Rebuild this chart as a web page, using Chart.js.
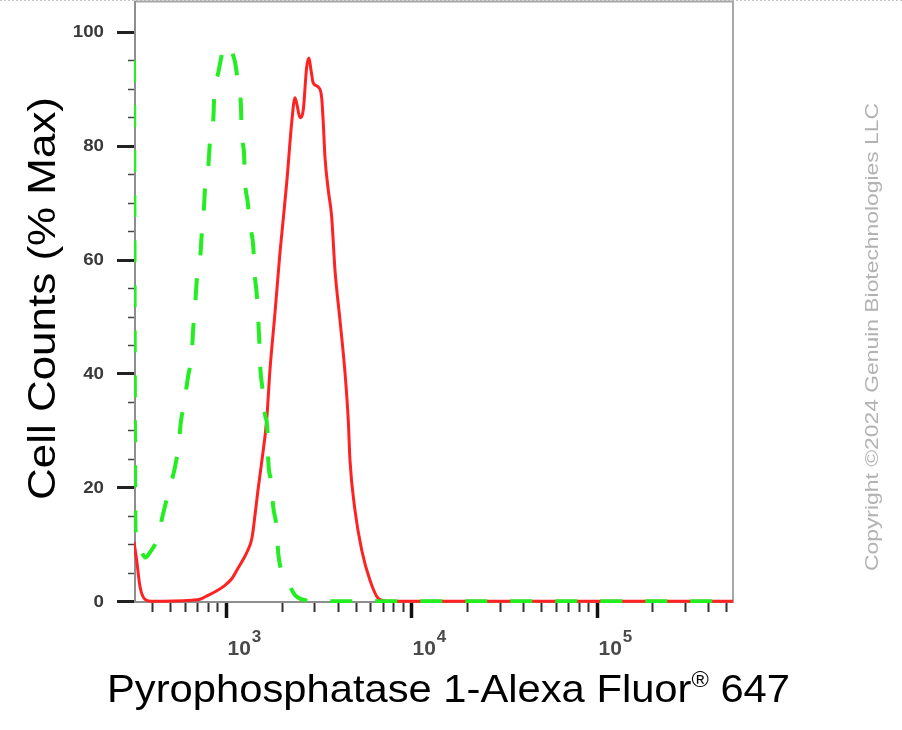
<!DOCTYPE html>
<html><head><meta charset="utf-8">
<script src="https://cdn.jsdelivr.net/npm/chart.js@4.4.1/dist/chart.umd.min.js"></script>
<style>html,body{margin:0;padding:0;background:#fff;overflow:hidden}#wrap{width:902px;height:730px;position:relative}</style>
</head><body><div id="wrap"><canvas id="c" width="902" height="730"></canvas></div>
<script>
// ---- data (x = fluorescence, y = % max) ----
const redX = [319, 329.8, 343.6, 365.6, 398.8, 655.4, 724, 799.7, 883.2, 987.6, 1077, 1161, 1251, 1314, 1381, 1434, 1488, 1564, 1658, 1727, 1838, 1956, 2030, 2134, 2262, 2357, 2416, 2507, 2613, 2725, 2804, 2875, 2958, 3148, 3284, 3350, 3421, 3564, 3718, 3873, 4121, 4386, 4569, 4667, 4966, 5398, 5983, 6633, 7482, 10000, 30000, 100000, 300000, 544000];
const redY = [10.4, 7.2, 2.6, 0.35, 0, 0.2, 0.35, 1.05, 1.75, 2.8, 4.0, 5.8, 7.6, 9.0, 11.1, 15.1, 19.5, 24.8, 31.8, 40.6, 50.6, 61.2, 66.6, 74.0, 84.0, 88.4, 87.2, 84.9, 86.3, 93.8, 95.4, 93.3, 91.0, 90.3, 88.4, 84.0, 78.0, 72.2, 67.5, 58.2, 49.4, 40.2, 31.8, 24.8, 16.0, 9.0, 3.7, 0.5, 0, 0, 0, 0, 0, 0];
const greenX = [319, 324.9, 339.4, 367.9, 389.1, 422.8, 458.9, 488.4, 526.1, 552.9, 571.8, 595.7, 626, 653, 666.1, 680.4, 694.9, 724, 739.5, 754.3, 770.4, 802.7, 819.8, 854.1, 864.8, 908.8, 951.6, 987.6, 1029, 1064, 1118, 1165, 1205, 1215, 1251, 1266, 1310, 1347, 1404, 1425, 1464, 1494, 1512, 1531, 1570, 1623, 1679, 1691, 1749, 1800, 1878, 1915, 2082, 2357, 2669, 3021, 10000, 30000, 100000, 300000, 544000];
const greenY = [95.0, 12.5, 9.3, 7.7, 8.6, 10.7, 15.5, 19.0, 23.0, 26.9, 31.6, 35.0, 39.7, 43.2, 48.0, 51.5, 56.1, 59.6, 64.3, 67.0, 72.2, 76.3, 80.7, 84.5, 88.9, 92.8, 96.0, 97.4, 97.7, 96.8, 94.7, 90.7, 86.8, 82.4, 78.7, 74.0, 70.1, 66.1, 62.2, 57.8, 54.1, 49.4, 45.9, 41.1, 37.6, 32.9, 29.2, 24.8, 21.3, 16.5, 12.8, 8.4, 4.6, 1.1, 0.2, 0, 0, 0, 0, 0, 0];

const yTickValues = [0, 20, 40, 60, 80, 100];
const yTickLabels = ['0', '20', '40', '60', '80', '100'];
const yMinorStep = 5;
const xMajorTicks = [1e3, 1e4, 1e5];
const xTickBase = '10';
const xTickExponents = ['3', '4', '5'];
const xMinorTicks = [400, 500, 600, 700, 800, 900, 2000, 3000, 4000, 5000, 6000, 7000, 8000, 9000, 20000, 30000, 40000, 50000, 60000, 70000, 80000, 90000, 200000, 300000, 400000, 500000];
const xTitleMain = 'Pyrophosphatase 1-Alexa Fluor';
const xTitleMark = '®';
const xTitleEnd = ' 647';
const yTitle = 'Cell Counts (% Max)';
const copyrightText = 'Copyright ©2024 Genuin Biotechnologies LLC';

const FONT = '"Liberation Sans", Arial, sans-serif';

function toPts(xs, ys) { return xs.map((x, i) => ({ x: x, y: ys[i] })); }

function stretchedText(ctx, parts, cx, cy, rot, targetLen, color) {
  ctx.save();
  ctx.fillStyle = color; ctx.textBaseline = 'alphabetic'; ctx.textAlign = 'left';
  let total = 0;
  for (const p of parts) { ctx.font = p.font; p.w = ctx.measureText(p.text).width; total += p.w; }
  const sx = targetLen / total;
  ctx.translate(cx, cy); if (rot) ctx.rotate(rot); ctx.scale(sx, 1);
  let x = -total / 2;
  for (const p of parts) { ctx.font = p.font; ctx.fillText(p.text, x, p.dy || 0); x += p.w; }
  ctx.restore();
}

const deco = {
  id: 'deco',
  beforeDatasetsDraw(chart) {
    const { ctx, chartArea: a } = chart;
    ctx.save();
    ctx.strokeStyle = '#c4c4c4'; ctx.lineWidth = 1; ctx.setLineDash([2, 2]);
    ctx.beginPath(); ctx.moveTo(0, 0.5); ctx.lineTo(chart.width, 0.5); ctx.stroke();
    ctx.setLineDash([]);
    ctx.strokeStyle = '#a8a8a8'; ctx.lineWidth = 2;
    ctx.beginPath(); ctx.moveTo(a.left, a.top + 0.5); ctx.lineTo(a.right, a.top + 0.5); ctx.lineTo(a.right, a.bottom); ctx.stroke();
    ctx.strokeStyle = '#8e8e8e'; ctx.lineWidth = 2;
    ctx.beginPath(); ctx.moveTo(a.left + 1, a.top); ctx.lineTo(a.left + 1, a.bottom - 1); ctx.lineTo(a.right, a.bottom - 1); ctx.stroke();
    ctx.restore();
  },
  afterDraw(chart) {
    const { ctx, chartArea: a } = chart;
    const xs = chart.scales.x, ys = chart.scales.y;
    ctx.save();
    // y ticks
    for (let v = 0; v <= 100; v += yMinorStep) {
      const y = Math.round(ys.getPixelForValue(v)) + 0.5;
      const major = yTickValues.includes(v);
      ctx.strokeStyle = major ? '#222' : '#444';
      ctx.lineWidth = major ? 3 : 1.5;
      ctx.beginPath(); ctx.moveTo(major ? a.left - 17 : a.left - 6, y); ctx.lineTo(a.left, y); ctx.stroke();
    }
    ctx.fillStyle = '#3a3a3a';
    yTickValues.forEach((v, i) => {
      const y = ys.getPixelForValue(v);
      ctx.save(); ctx.translate(a.left - 30, y); ctx.scale(1.1, 1);
      ctx.font = 'bold 17px ' + FONT; ctx.textAlign = 'right'; ctx.textBaseline = 'middle';
      ctx.fillText(yTickLabels[i], 0, 1); ctx.restore();
    });
    // x ticks
    const yb = a.bottom;
    xMinorTicks.forEach(t => {
      const x = Math.round(xs.getPixelForValue(t)) + 0.5;
      ctx.strokeStyle = '#333'; ctx.lineWidth = 2;
      ctx.beginPath(); ctx.moveTo(x, yb); ctx.lineTo(x, yb + 9); ctx.stroke();
    });
    xMajorTicks.forEach((t, i) => {
      const x = Math.round(xs.getPixelForValue(t)) + 0.5;
      ctx.strokeStyle = '#111'; ctx.lineWidth = 3.5;
      ctx.beginPath(); ctx.moveTo(x, yb); ctx.lineTo(x, yb + 15); ctx.stroke();
      ctx.fillStyle = '#4a4a4a'; ctx.textAlign = 'left'; ctx.textBaseline = 'alphabetic';
      ctx.font = 'bold 21px ' + FONT;
      const w = ctx.measureText(xTickBase).width;
      ctx.fillText(xTickBase, x + 1, yb + 52);
      ctx.font = 'bold 17px ' + FONT;
      ctx.fillText(xTickExponents[i], x + 1 + w + 1, yb + 39);
    });
    // titles
    stretchedText(ctx, [
      { text: xTitleMain, font: '39px ' + FONT },
      { text: xTitleMark, font: '22px ' + FONT, dy: -15 },
      { text: xTitleEnd, font: '39px ' + FONT }
    ], 448.5, 702, 0, 683, '#000');
    stretchedText(ctx, [{ text: yTitle, font: '38px ' + FONT }], 55, 298.5, -Math.PI / 2, 403, '#000');
    stretchedText(ctx, [{ text: copyrightText, font: '18px ' + FONT }], 878, 337, -Math.PI / 2, 468, '#b2b2b2');
    ctx.restore();
  }
};

new Chart(document.getElementById('c'), {
  type: 'line',
  data: {
    datasets: [
      { label: 'Isotype control', data: toPts(greenX, greenY), borderColor: '#22ee22', borderWidth: 4, borderDash: [22, 23], pointRadius: 0, cubicInterpolationMode: 'monotone', fill: false },
      { label: 'Pyrophosphatase 1', data: toPts(redX, redY), borderColor: '#ff2222', borderWidth: 3, pointRadius: 0, cubicInterpolationMode: 'monotone', fill: false }
    ]
  },
  options: {
    responsive: false, animation: false, devicePixelRatio: 1,
    layout: { padding: { top: 1, right: 169, left: 0, bottom: 0 } },
    plugins: { legend: { display: false }, tooltip: { enabled: false } },
    scales: {
      x: { type: 'logarithmic', min: 319, max: 544000, grid: { display: false }, border: { display: false }, ticks: { display: false }, afterFit(s) { s.height = 127; } },
      y: { type: 'linear', min: -0.3, max: 105.4, grid: { display: false }, border: { display: false }, ticks: { display: false }, afterFit(s) { s.width = 134; } }
    }
  },
  plugins: [deco]
});
</script></body></html>
